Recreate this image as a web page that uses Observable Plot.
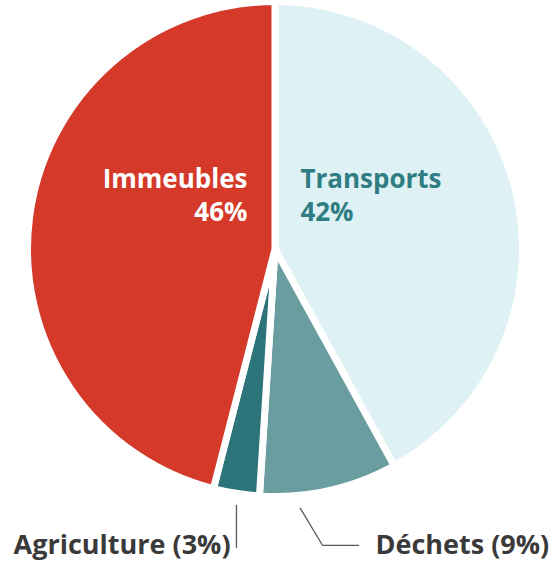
<!DOCTYPE html>
<html>
<head>
<meta charset="utf-8">
<script src="https://cdn.jsdelivr.net/npm/d3@7"></script>
<script src="https://cdn.jsdelivr.net/npm/@observablehq/plot@0.6"></script>
<style>
  html, body { margin: 0; padding: 0; background: #fff; }
  #chart { width: 550px; height: 563px; }
</style>
</head>
<body>
<div id="chart"></div>
<script>
// ---- data ----
const categories = ["Transports", "Déchets", "Agriculture", "Immeubles"];
const shares = [42, 9, 3, 46];
const sliceColors = ["#DEF1F4", "#699DA0", "#2C747A", "#D4392A"];

// ---- build pie slices from data ----
const pie = d3.pie().sort(null).value(d => d.share);
const table = categories.map((c, i) => ({category: c, share: shares[i], color: sliceColors[i]}));
const arcs = pie(table);

// Pie drawn as a custom render mark through Plot's x/y scales
function pieMark(index, scales, values, dimensions) {
  const x = scales.x, y = scales.y;
  const cx = x(0), cy = y(0);
  const r = Math.abs(x(1) - x(0)) + 3.5;
  const arc = d3.arc().innerRadius(0).outerRadius(r);
  const g = d3.create("svg:g").attr("transform", `translate(${cx},${cy})`);
  g.selectAll("path")
    .data(arcs)
    .join("path")
    .attr("d", arc)
    .attr("fill", d => d.data.color)
    .attr("stroke", "#fff")
    .attr("stroke-width", 7)
    .attr("stroke-linejoin", "round");
  return g.node();
}

// ---- labels ----
const innerLeft = [{text: `${categories[3]}\n${shares[3]}%`, x: -0.115, y: 0.115}];
const innerRight = [{text: `${categories[0]}\n${shares[0]}%`, x: 0.102, y: 0.115}];
const outerLeft = [{text: `${categories[2]} (${shares[2]}%)`, x: -0.184, y: -1.246}];
const outerRight = [{text: `${categories[1]} (${shares[1]}%)`, x: 0.410, y: -1.246}];
const leaders = [
  {id: "Agriculture", x: -0.160, y: -1.049},
  {id: "Agriculture", x: -0.160, y: -1.221},
  {id: "Déchets", x: 0.102, y: -1.061},
  {id: "Déchets", x: 0.193, y: -1.213},
  {id: "Déchets", x: 0.340, y: -1.213}
];

const innerStyle = {x: "x", y: "y", text: "text", lineAnchor: "bottom", lineHeight: 1.3,
  fontSize: 26, fontWeight: "bold", fontFamily: "Open Sans"};
const outerStyle = {x: "x", y: "y", text: "text", lineAnchor: "bottom", fill: "#3a3a3a",
  fontSize: 27, fontWeight: "bold", fontFamily: "Open Sans"};

const plot = Plot.plot({
  width: 550,
  height: 563,
  margin: 0,
  style: {background: "#fff"},
  x: {domain: [-1, 1], range: [31, 519], axis: null},
  y: {domain: [-1, 1], range: [493, 5], axis: null},
  marks: [
    pieMark,
    Plot.line(leaders, {x: "x", y: "y", z: "id", stroke: "#5a5a5a", strokeWidth: 1.3}),
    Plot.text(innerLeft, {...innerStyle, textAnchor: "end", fill: "#ffffff"}),
    Plot.text(innerRight, {...innerStyle, textAnchor: "start", fill: "#2F7D82"}),
    Plot.text(outerLeft, {...outerStyle, textAnchor: "end"}),
    Plot.text(outerRight, {...outerStyle, textAnchor: "start"})
  ]
});
document.getElementById("chart").appendChild(plot);
</script>
</body>
</html>
